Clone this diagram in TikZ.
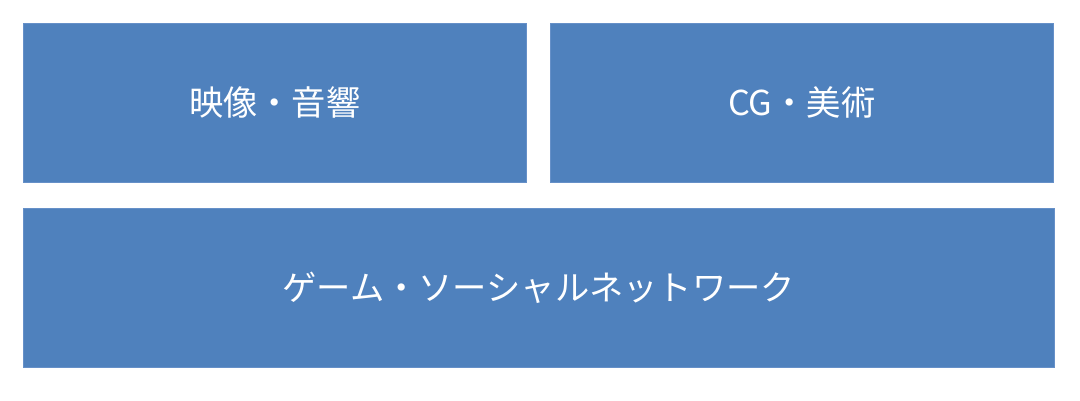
\documentclass[tikz,border=0pt]{standalone}
\usepackage{fontspec}
\newfontfamily\jpfont{Noto Sans CJK JP}
\definecolor{boxblue}{HTML}{4F81BD}
\definecolor{edgeblue}{HTML}{6690C8}
\tikzset{
  panel/.style={fill=boxblue, draw=edgeblue, line width=0.6pt, text=white, font=\jpfont\fontsize{34.3}{38}\selectfont, inner sep=0pt}
}
\begin{document}
\begin{tikzpicture}[x=1pt,y=-1pt]
\useasboundingbox (0,0) rectangle (1080,400);
\node[panel, minimum width=503pt, minimum height=159pt, anchor=north west] (av) at (23,23) {映像・音響};
\node[panel, minimum width=503pt, minimum height=159pt, anchor=north west] (cg) at (550,23) {CG・美術};
\node[panel, minimum width=1031pt, minimum height=159pt, anchor=north west] (game) at (23,208) {ゲーム・ソーシャルネットワーク};
\end{tikzpicture}
\end{document}
